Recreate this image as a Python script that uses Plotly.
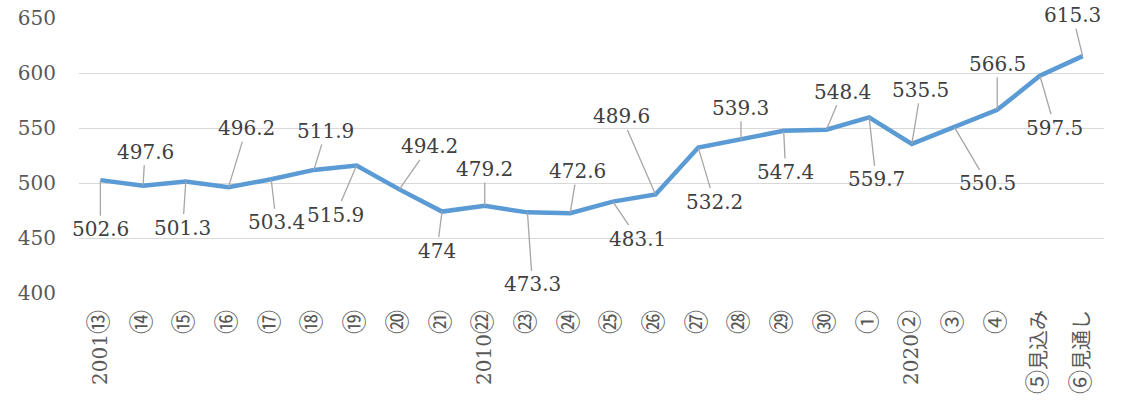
import plotly.graph_objects as go

categories = ["2001⑬", "⑭", "⑮", "⑯", "⑰", "⑱", "⑲", "⑳", "㉑", "2010㉒", "㉓", "㉔",
              "㉕", "㉖", "㉗", "㉘", "㉙", "㉚", "①", "2020②", "③", "④", "⑤見込み", "⑥見通し"]
values = [502.6, 497.6, 501.3, 496.2, 503.4, 511.9, 515.9, 494.2, 474, 479.2, 473.3, 472.6,
          483.1, 489.6, 532.2, 539.3, 547.4, 548.4, 559.7, 535.5, 550.5, 566.5, 597.5, 615.3]
y_ticks = [400, 450, 500, 550, 600, 650]

# label offsets in pixels (label centre relative to point)
label_offsets = [(0, 49), (2, -34), (-3, 46), (18, -59), (5, 43), (12, -39), (-21, 49),
                 (30, -43), (-5, 39), (0, -37), (5, 72), (7, -42), (25, 37), (-34, -78),
                 (16, 54), (0, -32), (2, 41), (16, -38), (7, 62), (9, -54), (33, 56),
                 (0, -46), (15, 52), (-10, -41)]

FONT = "'DejaVu Serif', 'Liberation Serif', serif"
CJK = "'Noto Sans CJK JP'"
CIRCLED = set("①②③④⑤⑥⑦⑧⑨⑩⑪⑫⑬⑭⑮⑯⑰⑱⑲⑳㉑㉒㉓㉔㉕㉖㉗㉘㉙㉚")


def styled_tick(label):
    out = []
    for ch in label:
        if ch.isascii():
            out.append(ch)
        elif ch in CIRCLED:
            out.append(f'<span style="font-family:{CJK};font-size:24px">{ch}</span>')
        else:
            out.append(f'<span style="font-family:{CJK};font-size:20px">{ch}</span>')
    return "".join(out)


ticktext = [styled_tick(c) for c in categories]

fig = go.Figure()
fig.add_trace(go.Scatter(
    x=categories, y=values, mode="lines",
    line=dict(color="#5B9BD5", width=4.5),
    hoverinfo="skip", showlegend=False,
))

annotations = []
for c, v, (dx, dy) in zip(categories, values, label_offsets):
    annotations.append(dict(
        x=c, y=v, xref="x", yref="y", text=f"{v:g}",
        showarrow=True, arrowhead=0, arrowwidth=1.3, arrowcolor="#a6a6a6",
        ax=dx, ay=dy, standoff=0,
        font=dict(family=FONT, size=20, color="#404040"),
    ))

fig.update_layout(
    width=1127, height=407,
    margin=dict(l=79, r=23, t=18, b=114),
    paper_bgcolor="white", plot_bgcolor="white",
    annotations=annotations,
    font=dict(family=FONT, color="#595959"),
)
fig.update_xaxes(
    type="category", range=[-0.5, len(categories) - 0.5],
    tickmode="array", tickvals=categories, ticktext=ticktext,
    tickangle=-90, tickfont=dict(family=FONT, size=20, color="#595959"),
    showgrid=False, showline=False, zeroline=False,
    ticks="", ticklabelstandoff=12, automargin=False,
)
fig.update_yaxes(
    range=[400, 650], tickmode="array", tickvals=y_ticks,
    tickfont=dict(family=FONT, size=20, color="#595959"),
    showgrid=True, gridcolor="#d9d9d9", gridwidth=1.3,
    showline=False, zeroline=False, ticks="", ticklabelstandoff=22,
    ticklabeloverflow="allow", automargin=False,
)

fig.write_html(
    "out.html",
    config={"displayModeBar": False},
    post_script="document.body.style.margin='0';document.body.style.overflow='hidden';",
)
